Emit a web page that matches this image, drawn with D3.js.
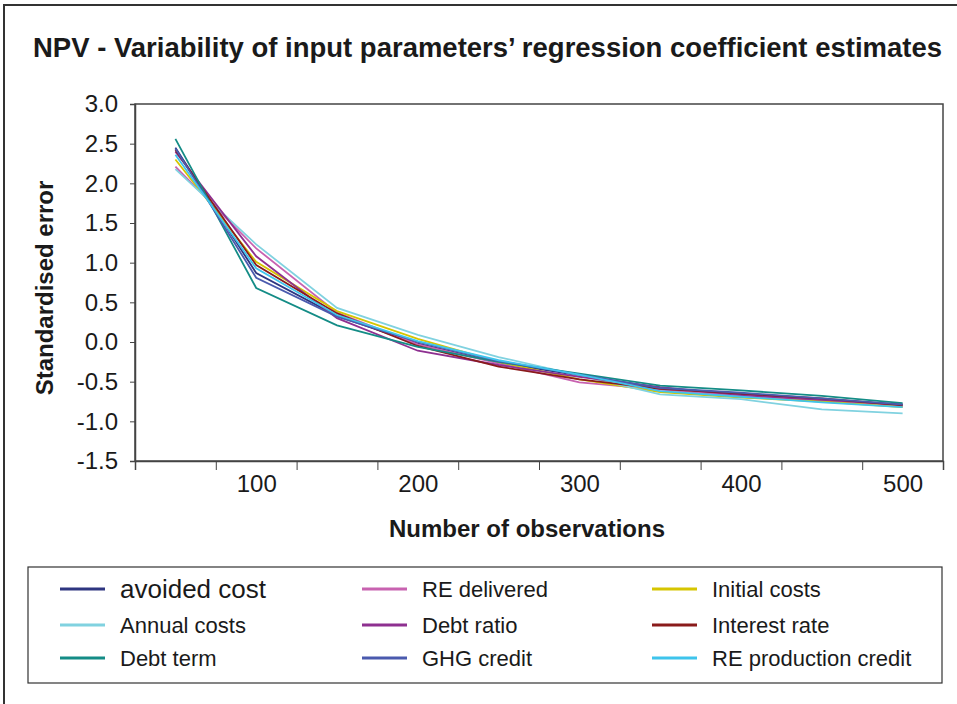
<!DOCTYPE html>
<html>
<head>
<meta charset="utf-8">
<script src="https://cdn.jsdelivr.net/npm/d3@7"></script>
<style>
  body { margin: 0; background: #fff; }
  text { font-family: "Liberation Sans Narrow", "Arial Narrow", "Liberation Sans", Arial, sans-serif; fill: #1a1a1a; }
</style>
</head>
<body>
<div id="chart"></div>
<script>
// categories (number of observations)
var observations = [50, 100, 150, 200, 250, 300, 350, 400, 450, 500];
var xLabels = [100, 200, 300, 400, 500];
var yTicks = [-1.5, -1.0, -0.5, 0.0, 0.5, 1.0, 1.5, 2.0, 2.5, 3.0];

// series names, in legend order
var seriesNames = ["avoided cost", "RE delivered", "Initial costs",
                   "Annual costs", "Debt ratio", "Interest rate",
                   "Debt term", "GHG credit", "RE production credit"];
var seriesColors = ["#2e3580", "#c862b0", "#d6c500",
                    "#80d2e0", "#8e3090", "#8a1b1b",
                    "#148c86", "#4a5aae", "#3ec4ec"];

// standardised error per series
var avoidedCost      = [2.45, 0.87, 0.33, -0.02, -0.26, -0.42, -0.58, -0.66, -0.72, -0.79];
var reDelivered      = [2.21, 1.18, 0.37, -0.03, -0.27, -0.51, -0.60, -0.68, -0.74, -0.81];
var initialCosts     = [2.30, 1.01, 0.39,  0.04, -0.25, -0.47, -0.63, -0.70, -0.75, -0.82];
var annualCosts      = [2.18, 1.23, 0.43,  0.09, -0.19, -0.42, -0.66, -0.72, -0.85, -0.90];
var debtRatio        = [2.40, 1.08, 0.30, -0.11, -0.29, -0.44, -0.57, -0.67, -0.73, -0.79];
var interestRate     = [2.42, 0.97, 0.36, -0.05, -0.31, -0.47, -0.59, -0.65, -0.71, -0.80];
var debtTerm         = [2.56, 0.68, 0.21, -0.06, -0.25, -0.40, -0.55, -0.61, -0.68, -0.77];
var ghgCredit        = [2.44, 0.81, 0.32,  0.00, -0.24, -0.41, -0.58, -0.64, -0.71, -0.79];
var reProdCredit     = [2.36, 0.93, 0.34,  0.01, -0.23, -0.41, -0.62, -0.69, -0.76, -0.82];

var seriesValues = [avoidedCost, reDelivered, initialCosts, annualCosts, debtRatio,
                    interestRate, debtTerm, ghgCredit, reProdCredit];

var width = 957, height = 704;
var plot = {left: 135, right: 943, top: 104, bottom: 461};

var svg = d3.select("#chart").append("svg").attr("width", width).attr("height", height);

// outer frame (only top and left are in view)
svg.append("rect").attr("x", 4).attr("y", 5).attr("width", 980).attr("height", 720)
    .attr("fill", "none").attr("stroke", "#333").attr("stroke-width", 2);

svg.append("text").attr("x", 33).attr("y", 57)
    .attr("font-size", 28).attr("font-weight", "bold")
    .attr("textLength", 909).attr("lengthAdjust", "spacingAndGlyphs")
    .text("NPV - Variability of input parameters\u2019 regression coefficient estimates");

// scales: category c sits in the middle of a band 50 wide
var x = d3.scaleLinear().domain([25, 525]).range([plot.left, plot.right]);
var y = d3.scaleLinear().domain([-1.5, 3]).range([plot.bottom, plot.top]);

// plot frame
svg.append("rect").attr("x", plot.left).attr("y", plot.top)
    .attr("width", plot.right - plot.left).attr("height", plot.bottom - plot.top)
    .attr("fill", "#fff").attr("stroke", "#444").attr("stroke-width", 1.5);

// y axis
var yAxis = svg.append("g").attr("transform", "translate(" + plot.left + ",0)")
    .call(d3.axisLeft(y).tickValues(yTicks).tickSize(5).tickPadding(12)
        .tickFormat(function (d) { return d.toFixed(1); }));
yAxis.select(".domain").attr("stroke", "#444").attr("stroke-width", 1.5);
yAxis.selectAll(".tick line").attr("stroke", "#444");
yAxis.selectAll("text").attr("font-size", 24).style("font-family", null).attr("fill", "#1a1a1a");

// x axis: ticks on band edges, labels every 100
var edges = observations.map(function (d) { return d - 25; }).concat([525]);
var xTickAxis = svg.append("g").attr("transform", "translate(0," + plot.bottom + ")")
    .call(d3.axisBottom(x).tickValues(edges).tickSize(9).tickFormat(""));
xTickAxis.select(".domain").attr("stroke", "#444").attr("stroke-width", 1.5);
xTickAxis.selectAll(".tick line").attr("stroke", "#444");

var xLabelAxis = svg.append("g").attr("transform", "translate(0," + plot.bottom + ")")
    .call(d3.axisBottom(x).tickValues(xLabels).tickSize(0).tickPadding(14));
xLabelAxis.select(".domain").remove();
xLabelAxis.selectAll("text").attr("font-size", 24).style("font-family", null).attr("fill", "#1a1a1a");

// axis titles
svg.append("text").attr("x", (plot.left + plot.right) / 2 - 12).attr("y", 537)
    .attr("text-anchor", "middle").attr("font-size", 24).attr("font-weight", "bold")
    .text("Number of observations");
svg.append("text").attr("transform", "translate(53," + 288 + ") rotate(-90)")
    .attr("text-anchor", "middle").attr("font-size", 24).attr("font-weight", "bold")
    .text("Standardised error");

// lines
var line = d3.line()
    .x(function (d, i) { return x(observations[i]); })
    .y(function (d) { return y(d); });

svg.append("g").selectAll("path")
    .data(seriesValues)
    .enter().append("path")
    .attr("d", line)
    .attr("fill", "none")
    .attr("stroke", function (d, i) { return seriesColors[i]; })
    .attr("stroke-width", 1.8);

// legend
svg.append("rect").attr("x", 28).attr("y", 567).attr("width", 914).attr("height", 116)
    .attr("fill", "#fff").attr("stroke", "#333").attr("stroke-width", 1.2);

var legendCols = [60, 362, 652];
var legendRows = [589, 625, 658];
var legend = svg.append("g").selectAll("g")
    .data(seriesNames)
    .enter().append("g")
    .attr("transform", function (d, i) {
        return "translate(" + legendCols[i % 3] + "," + legendRows[Math.floor(i / 3)] + ")";
    });
legend.append("line").attr("x1", 0).attr("x2", 45)
    .attr("stroke", function (d, i) { return seriesColors[i]; })
    .attr("stroke-width", 3);
legend.append("text").attr("x", 60).attr("dy", "0.35em")
    .attr("font-size", function (d, i) { return i === 0 ? 26 : 22; })
    .text(function (d) { return d; });
</script>
</body>
</html>
